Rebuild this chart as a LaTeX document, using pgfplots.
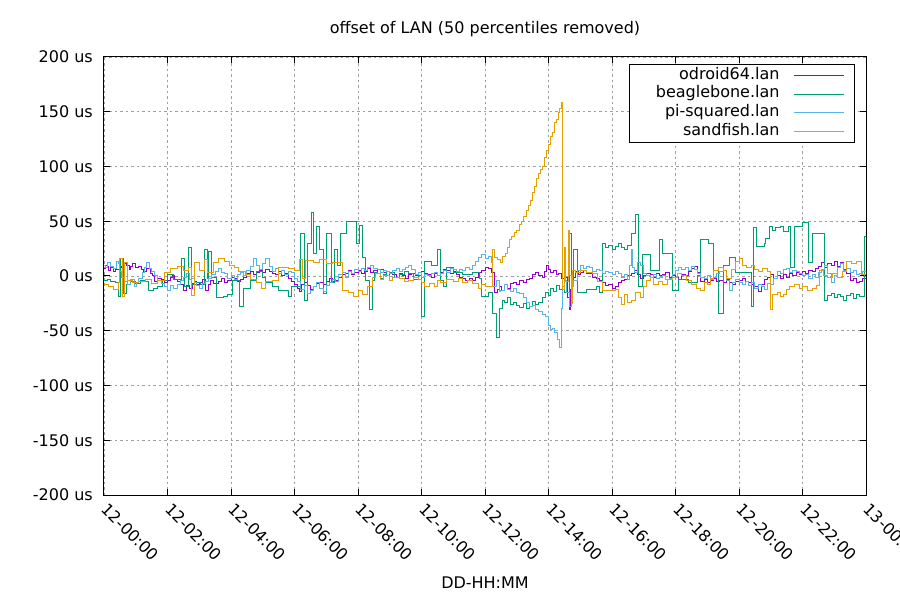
\documentclass[border=0pt]{standalone}
\usepackage{pgfplots}
\pgfplotsset{compat=1.18}
\usepackage{fontspec}
\setmainfont{DejaVu Sans}
\definecolor{cOd}{HTML}{9400D3}
\definecolor{cBe}{HTML}{009E73}
\definecolor{cPi}{HTML}{56B4E9}
\definecolor{cSa}{HTML}{E69F00}
\newcommand{\gfont}{\fontsize{16bp}{19bp}\selectfont}
\newcommand{\lent}[1]{\makebox[140bp][r]{#1}}
\begin{document}
\begin{tikzpicture}
\begin{axis}[
  scale only axis, width=762bp, height=438bp,
  at={(0,0)}, anchor=south west,
  xmin=0, xmax=24, ymin=-200, ymax=200,
  axis line style={line width=1bp, black},
  tick align=inside, major tick length=6bp,
  tick style={line width=1bp, black},
  xtick={0,2,...,24},
  xticklabels={12-00:00,12-02:00,12-04:00,12-06:00,12-08:00,12-10:00,12-12:00,12-14:00,12-16:00,12-18:00,12-20:00,12-22:00,13-00:00},
  ytick={-200,-150,...,200},
  yticklabels={-200 us,-150 us,-100 us,-50 us,0 us,50 us,100 us,150 us,200 us},
  xticklabel style={font=\gfont, xshift=5bp, rotate=-45, anchor=north west, inner sep=0pt},
  xticklabel shift=7bp,
  yticklabel style={font=\gfont, anchor=east, inner sep=0pt, xshift=-11bp},
  grid=major,
  major grid style={gray!75, line width=0.8bp, dash pattern=on 2.5bp off 3bp},
  title={offset of LAN (50 percentiles removed)},
  title style={font=\gfont, at={(0.5,1)}, anchor=south, yshift=11bp},
  xlabel={DD-HH:MM},
  xlabel style={font=\gfont, at={(0.5,0)}, anchor=center, yshift=-88bp},
  legend style={at={(0.9856,0.9841)}, anchor=north east, draw=black, line width=1bp,
    font=\gfont, row sep=0bp, column sep=14bp, inner xsep=10bp, inner ysep=1.5bp,
    nodes={inner xsep=0bp, inner ysep=1.5bp, text height=11.7bp, text depth=4bp}},
  legend cell align=right,
  legend plot pos=right,
  legend image code/.code={\draw[#1, line width=1bp] (0bp,0bp) -- (50bp,0bp);},
  every axis plot/.append style={line width=1bp, const plot},
]
\addplot[cOd] coordinates {
(0,7)(0.05,10)(0.1,9)(0.15,5)(0.2,8)(0.3,4)(0.35,7)(0.4,6)(0.5,9)(0.55,8)(0.62,11)(0.7,10)(0.8,6)(0.85,9)(0.9,11)(1.0,8)(1.1,9)(1.18,6)(1.25,4)(1.35,7)(1.45,2)(1.52,0)(1.6,-5)(1.7,-2)(1.8,-3)(1.9,-6)(2.0,-4)(2.08,-1)(2.15,0)(2.22,-3)(2.3,-5)(2.4,-8)(2.5,-13)(2.6,-9)(2.7,-11)(2.78,-7)(2.85,-5)(2.92,-8)(3.0,-6)(3.1,-3)(3.2,-13)(3.28,-8)(3.35,-4)(3.45,-7)(3.6,-5)(3.7,-2)(3.8,-6)(3.9,-4)(4.0,-1)(4.1,-2)(4.2,-5)(4.3,-3)(4.4,-1)(4.5,2)(4.6,4)(4.7,1)(4.8,3)(4.9,5)(5.0,3)(5.1,6)(5.2,4)(5.3,2)(5.4,1)(5.5,4)(5.6,0)(5.7,2)(5.8,-2)(5.9,-5)(6.0,-8)(6.08,-11)(6.15,-14)(6.22,-8)(6.3,-6)(6.4,-9)(6.5,-12)(6.6,-10)(6.7,-7)(6.8,-6)(6.9,-8)(7.0,-5)(7.1,-2)(7.2,-5)(7.3,-4)(7.4,-1)(7.5,1)(7.6,2)(7.7,5)(7.8,1)(7.9,3)(8.0,5)(8.1,2)(8.2,4)(8.3,7)(8.4,3)(8.5,5)(8.6,2)(8.7,6)(8.8,3)(8.9,0)(9.0,2)(9.1,1)(9.2,-1)(9.3,2)(9.4,0)(9.5,-2)(9.6,1)(9.7,2)(9.8,0)(9.9,3)(10.0,4)(10.1,2)(10.2,1)(10.3,-1)(10.4,2)(10.5,0)(10.6,3)(10.7,6)(10.8,5)(10.9,2)(11.0,4)(11.1,1)(11.2,-1)(11.3,-2)(11.4,-4)(11.5,-2)(11.6,-4)(11.7,-1)(11.8,3)(11.9,5)(12.0,8)(12.1,7)(12.2,3)(12.3,-15)(12.38,-12)(12.45,-10)(12.52,-13)(12.6,-8)(12.7,-11)(12.8,-7)(12.9,-6)(13.0,-8)(13.1,-4)(13.2,-6)(13.3,-3)(13.4,-2)(13.5,1)(13.6,3)(13.7,0)(13.8,-1)(13.88,4)(13.95,10)(14.0,6)(14.05,3)(14.15,5)(14.25,1)(14.3,2)(14.4,-2)(14.5,-1)(14.6,-20)(14.65,-31)(14.7,-12)(14.75,-1)(14.85,4)(14.95,1)(15.0,3)(15.1,5)(15.2,2)(15.3,2)(15.4,-1)(15.5,-2)(15.6,-4)(15.7,-6)(15.8,-9)(15.9,-8)(16.0,-11)(16.1,-10)(16.2,-6)(16.3,-4)(16.4,-3)(16.5,0)(16.6,2)(16.7,5)(16.8,1)(16.9,-2)(17.0,0)(17.1,2)(17.2,1)(17.3,-1)(17.4,2)(17.5,0)(17.6,1)(17.7,3)(17.8,-1)(17.9,0)(18.0,-1)(18.1,-3)(18.2,1)(18.3,0)(18.4,4)(18.5,7)(18.6,9)(18.7,3)(18.8,-5)(18.9,-3)(19.0,-6)(19.1,-4)(19.2,-2)(19.3,-5)(19.4,-4)(19.5,-6)(19.6,-3)(19.7,-6)(19.8,-8)(19.9,-5)(20.0,-4)(20.1,-2)(20.2,-5)(20.3,-6)(20.4,-8)(20.5,-10)(20.6,-14)(20.7,-8)(20.8,-3)(20.9,-1)(21.0,1)(21.1,-2)(21.2,0)(21.3,-2)(21.4,1)(21.5,-1)(21.6,2)(21.7,0)(21.8,3)(21.9,1)(22.0,4)(22.1,2)(22.2,5)(22.3,4)(22.4,7)(22.5,9)(22.6,12)(22.7,8)(22.8,11)(22.9,10)(23.0,13)(23.1,9)(23.2,12)(23.3,6)(23.4,2)(23.5,-4)(23.6,-2)(23.7,-6)(23.8,-5)(23.9,-2)(24,-3)
};
\addlegendentry{\lent{odroid64.lan}}
\addplot[cBe] coordinates {
(0.00,-4)(0.10,-3)(0.20,-5)(0.35,-6)(0.45,-19)(0.52,16)(0.60,-16)(0.70,-8)(0.85,-5)(1.00,-7)(1.15,-4)(1.30,-5)(1.40,-13)(1.55,-11)(1.70,-10)(1.85,-4)(2.00,1)(2.20,-3)(2.45,16)(2.55,-10)(2.65,26)(2.75,-8)(2.90,-6)(3.05,-8)(3.15,24)(3.25,-2)(3.30,22)(3.40,-1)(3.55,-20)(3.75,-19)(3.90,-17)(4.05,-4)(4.20,-4)(4.28,-28)(4.40,-11)(4.60,-4)(4.80,4)(5.00,-1)(5.10,-6)(5.30,-10)(5.50,-13)(5.80,-19)(5.90,-10)(6.10,-10)(6.20,39)(6.30,-22)(6.40,30)(6.55,58)(6.60,21)(6.70,45)(6.80,24)(6.90,-16)(7.00,39)(7.15,-6)(7.25,24)(7.35,10)(7.45,39)(7.65,50)(7.85,50)(7.95,30)(8.05,46)(8.15,17)(8.25,-4)(8.35,-31)(8.45,-4)(8.52,3)(8.60,2)(8.7,-2)(8.80,1)(8.9,4)(9.00,3)(9.15,-1)(9.30,1)(9.45,4)(9.60,2)(9.75,-3)(9.90,0)(10.00,-37)(10.10,13)(10.30,10)(10.50,24)(10.60,-4)(10.70,-10)(10.80,8)(11.00,3)(11.30,1)(11.60,3)(11.84,-2)(11.90,-19)(12.10,-15)(12.25,-34)(12.35,-56)(12.45,-30)(12.55,-22)(12.60,-24)(12.7,-20)(12.8,-26)(12.90,-24)(13.0,-27)(13.10,-29)(13.2,-25)(13.3,-30)(13.40,-28)(13.5,-23)(13.6,-26)(13.70,-24)(13.8,-20)(13.90,-15)(14.0,-18)(14.05,-11)(14.15,-14)(14.25,-9)(14.35,-12)(14.50,-15)(14.65,39)(14.72,-10)(14.80,24)(14.90,-15)(15.20,-12)(15.50,-10)(15.60,-15)(15.70,30)(15.8,26)(15.90,28)(16.0,24)(16.10,27)(16.2,30)(16.30,26)(16.4,24)(16.50,28)(16.60,39)(16.75,56)(16.85,-10)(16.95,20)(17.20,5)(17.50,33)(17.60,21)(17.90,-13)(18.10,-3)(18.40,-6)(18.70,0)(18.80,33)(19.05,30)(19.20,5)(19.35,-34)(19.50,10)(19.70,17)(19.90,3)(20.20,3)(20.40,-28)(20.45,44)(20.55,27)(20.80,30)(20.85,34)(20.95,45)(21.05,42)(21.15,44)(21.30,45)(21.4,41)(21.55,45)(21.62,8)(21.75,45)(22.00,49)(22.20,12)(22.30,39)(22.55,39)(22.70,-22)(22.8,-18)(22.90,-16)(23.0,-20)(23.1,-17)(23.20,-19)(23.3,-22)(23.4,-18)(23.50,-16)(23.6,-21)(23.7,-17)(23.80,-19)(23.95,36)(24.00,30)
};
\addlegendentry{\lent{beaglebone.lan}}
\addplot[cPi] coordinates {
(0,10)(0.05,8)(0.1,12)(0.2,9)(0.3,7)(0.38,13)(0.45,11)(0.5,4)(0.55,-1)(0.65,-5)(0.75,-8)(0.85,-3)(0.95,-10)(1.02,-6)(1.1,-2)(1.2,3)(1.28,8)(1.35,12)(1.42,7)(1.5,4)(1.6,0)(1.7,-4)(1.8,-7)(1.9,-10)(2.0,-13)(2.1,-9)(2.2,-11)(2.3,-8)(2.4,-4)(2.5,-1)(2.6,2)(2.68,-3)(2.75,-2)(2.85,-6)(2.92,-9)(3.0,-11)(3.1,-7)(3.2,-5)(3.3,-2)(3.4,1)(3.5,4)(3.6,7)(3.7,3)(3.8,2)(3.9,-2)(4.0,0)(4.1,-3)(4.2,1)(4.3,3)(4.4,0)(4.5,5)(4.6,9)(4.7,16)(4.8,10)(4.9,6)(5.0,11)(5.1,16)(5.2,9)(5.3,4)(5.4,7)(5.5,2)(5.6,5)(5.7,1)(5.8,4)(5.9,3)(6.0,-2)(6.1,-5)(6.2,-12)(6.3,-9)(6.4,-16)(6.5,-13)(6.6,-10)(6.7,-6)(6.8,-11)(6.9,-14)(7.0,-9)(7.1,-6)(7.2,-3)(7.3,-5)(7.4,1)(7.5,3)(7.6,-1)(7.7,4)(7.8,2)(7.9,6)(8.0,4)(8.1,7)(8.2,5)(8.3,8)(8.4,10)(8.5,7)(8.6,6)(8.7,3)(8.8,5)(8.9,4)(9.0,2)(9.1,5)(9.2,7)(9.3,4)(9.4,6)(9.5,8)(9.6,10)(9.7,6)(9.8,1)(9.9,3)(10.0,-1)(10.1,1)(10.2,0)(10.3,2)(10.4,3)(10.5,0)(10.6,2)(10.7,5)(10.8,3)(10.9,7)(11.0,6)(11.1,4)(11.2,6)(11.3,5)(11.4,8)(11.5,6)(11.6,10)(11.7,13)(11.8,17)(11.9,20)(12.0,16)(12.1,18)(12.2,12)(12.25,-10)(12.35,-4)(12.45,-14)(12.5,-13)(12.6,-8)(12.7,-12)(12.8,-14)(12.9,-11)(13.0,-15)(13.1,-16)(13.2,-20)(13.3,-24)(13.4,-28)(13.5,-27)(13.6,-31)(13.7,-32)(13.8,-35)(13.9,-37)(14.0,-45)(14.05,-49)(14.12,-48)(14.2,-52)(14.28,-58)(14.35,-65)(14.4,-30)(14.45,-10)(14.5,-4)(14.58,-15)(14.65,-28)(14.72,-10)(14.8,-4)(14.9,5)(15.0,10)(15.1,7)(15.2,9)(15.3,8)(15.4,4)(15.5,6)(15.6,5)(15.7,2)(15.8,4)(15.9,3)(16.0,1)(16.1,4)(16.2,2)(16.3,-1)(16.4,1)(16.5,-3)(16.55,10)(16.6,24)(16.65,8)(16.7,3)(16.8,12)(16.9,10)(17.0,2)(17.1,0)(17.2,-1)(17.3,1)(17.4,-2)(17.5,-1)(17.6,0)(17.7,-3)(17.8,-2)(17.9,1)(18.0,5)(18.1,8)(18.2,6)(18.3,8)(18.4,5)(18.5,9)(18.6,6)(18.7,2)(18.8,-1)(18.9,-2)(19.0,0)(19.1,-3)(19.2,-1)(19.3,2)(19.4,4)(19.5,5)(19.6,-4)(19.7,-13)(19.8,-6)(19.9,-3)(20.0,-6)(20.1,-8)(20.2,-5)(20.3,-9)(20.4,-6)(20.5,-11)(20.6,-8)(20.7,-10)(20.8,-12)(20.9,-7)(21.0,-8)(21.1,-2)(21.2,4)(21.3,2)(21.4,6)(21.5,7)(21.6,3)(21.7,5)(21.8,4)(21.9,2)(22.0,0)(22.1,1)(22.2,-2)(22.3,1)(22.4,-1)(22.5,3)(22.6,6)(22.7,10)(22.8,2)(22.9,-6)(23.0,0)(23.1,8)(23.2,11)(23.3,5)(23.4,7)(23.5,3)(23.6,5)(23.7,1)(23.8,2)(23.9,4)(24,3)
};
\addlegendentry{\lent{pi-squared.lan}}
\addplot[cSa] coordinates {
(0,-8)(0.15,-10)(0.3,-12)(0.45,-6)(0.5,16)(0.58,-19)(0.65,12)(0.75,-4)(0.9,-6)(1.1,-5)(1.3,-3)(1.5,-7)(1.7,-4)(1.9,3)(2.1,7)(2.3,9)(2.5,5)(2.65,8)(2.75,-18)(2.85,12)(3.0,5)(3.15,15)(3.25,3)(3.45,12)(3.6,16)(3.8,13)(3.95,10)(4.1,8)(4.25,4)(4.45,1)(4.6,-3)(4.8,-6)(4.95,-11)(5.1,-5)(5.3,-4)(5.5,8)(5.65,8)(5.8,7)(6.0,5)(6.15,15)(6.25,-2)(6.35,14)(6.6,12)(6.8,15)(7.0,11)(7.2,12)(7.4,12)(7.5,-13)(7.7,-15)(7.85,-19)(8.0,-13)(8.15,-17)(8.3,-10)(8.45,-1)(8.55,2)(8.7,-3)(8.8,0)(9.0,-4)(9.1,-1)(9.3,-2)(9.45,-5)(9.6,-4)(9.75,-1)(9.9,-3)(10.0,-6)(10.1,-10)(10.25,-7)(10.4,-10)(10.5,-4)(10.6,-6)(10.8,-3)(11.0,-5)(11.15,-2)(11.3,-6)(11.45,-4)(11.6,-7)(11.8,-11)(11.9,-8)(12.0,-10)(12.22,-10)(12.25,24)(12.3,17)(12.4,15)(12.5,12)(12.55,18)(12.65,21)(12.72,26)(12.78,33)(12.85,36)(12.92,40)(13.0,42)(13.08,47)(13.15,50)(13.22,54)(13.3,60)(13.36,64)(13.42,69)(13.5,76)(13.57,82)(13.63,89)(13.7,94)(13.76,97)(13.8,100)(13.88,108)(13.95,115)(14.0,120)(14.05,127)(14.12,131)(14.2,140)(14.25,143)(14.3,149)(14.36,153)(14.42,158)(14.44,-12)(14.5,26)(14.55,-5)(14.62,42)(14.66,0)(14.72,-25)(14.76,5)(14.85,3)(15.0,5)(15.2,3)(15.4,2)(15.55,-5)(15.7,-13)(15.95,-13)(16.1,-12)(16.2,-20)(16.3,-26)(16.4,-17)(16.5,-24)(16.6,-22)(16.75,-15)(16.9,-20)(17.0,-10)(17.1,-4)(17.2,-1)(17.3,-8)(17.45,-5)(17.6,-8)(17.75,-3)(17.9,-1)(18.05,2)(18.2,0)(18.35,-4)(18.5,-8)(18.65,-11)(18.8,-13)(18.9,-6)(19.0,-8)(19.1,-2)(19.2,5)(19.35,8)(19.5,5)(19.6,-2)(19.75,6)(19.9,13)(20.0,16)(20.1,10)(20.25,8)(20.4,10)(20.5,6)(20.6,4)(20.75,7)(20.9,4)(21.0,-31)(21.05,-17)(21.2,-15)(21.3,-19)(21.4,-17)(21.5,-12)(21.6,-10)(21.75,-8)(21.9,-11)(22.0,-10)(22.15,-13)(22.3,-11)(22.45,-9)(22.55,5)(22.65,0)(22.8,-1)(22.95,2)(23.1,-1)(23.25,4)(23.4,13)(23.55,11)(23.7,13)(23.85,1)(24.0,5)
};
\addlegendentry{\lent{sandfish.lan}}
\end{axis}
\pgfresetboundingbox
\path[use as bounding box] (-104bp,-105bp) rectangle (796bp,495bp);
\end{tikzpicture}
\end{document}
